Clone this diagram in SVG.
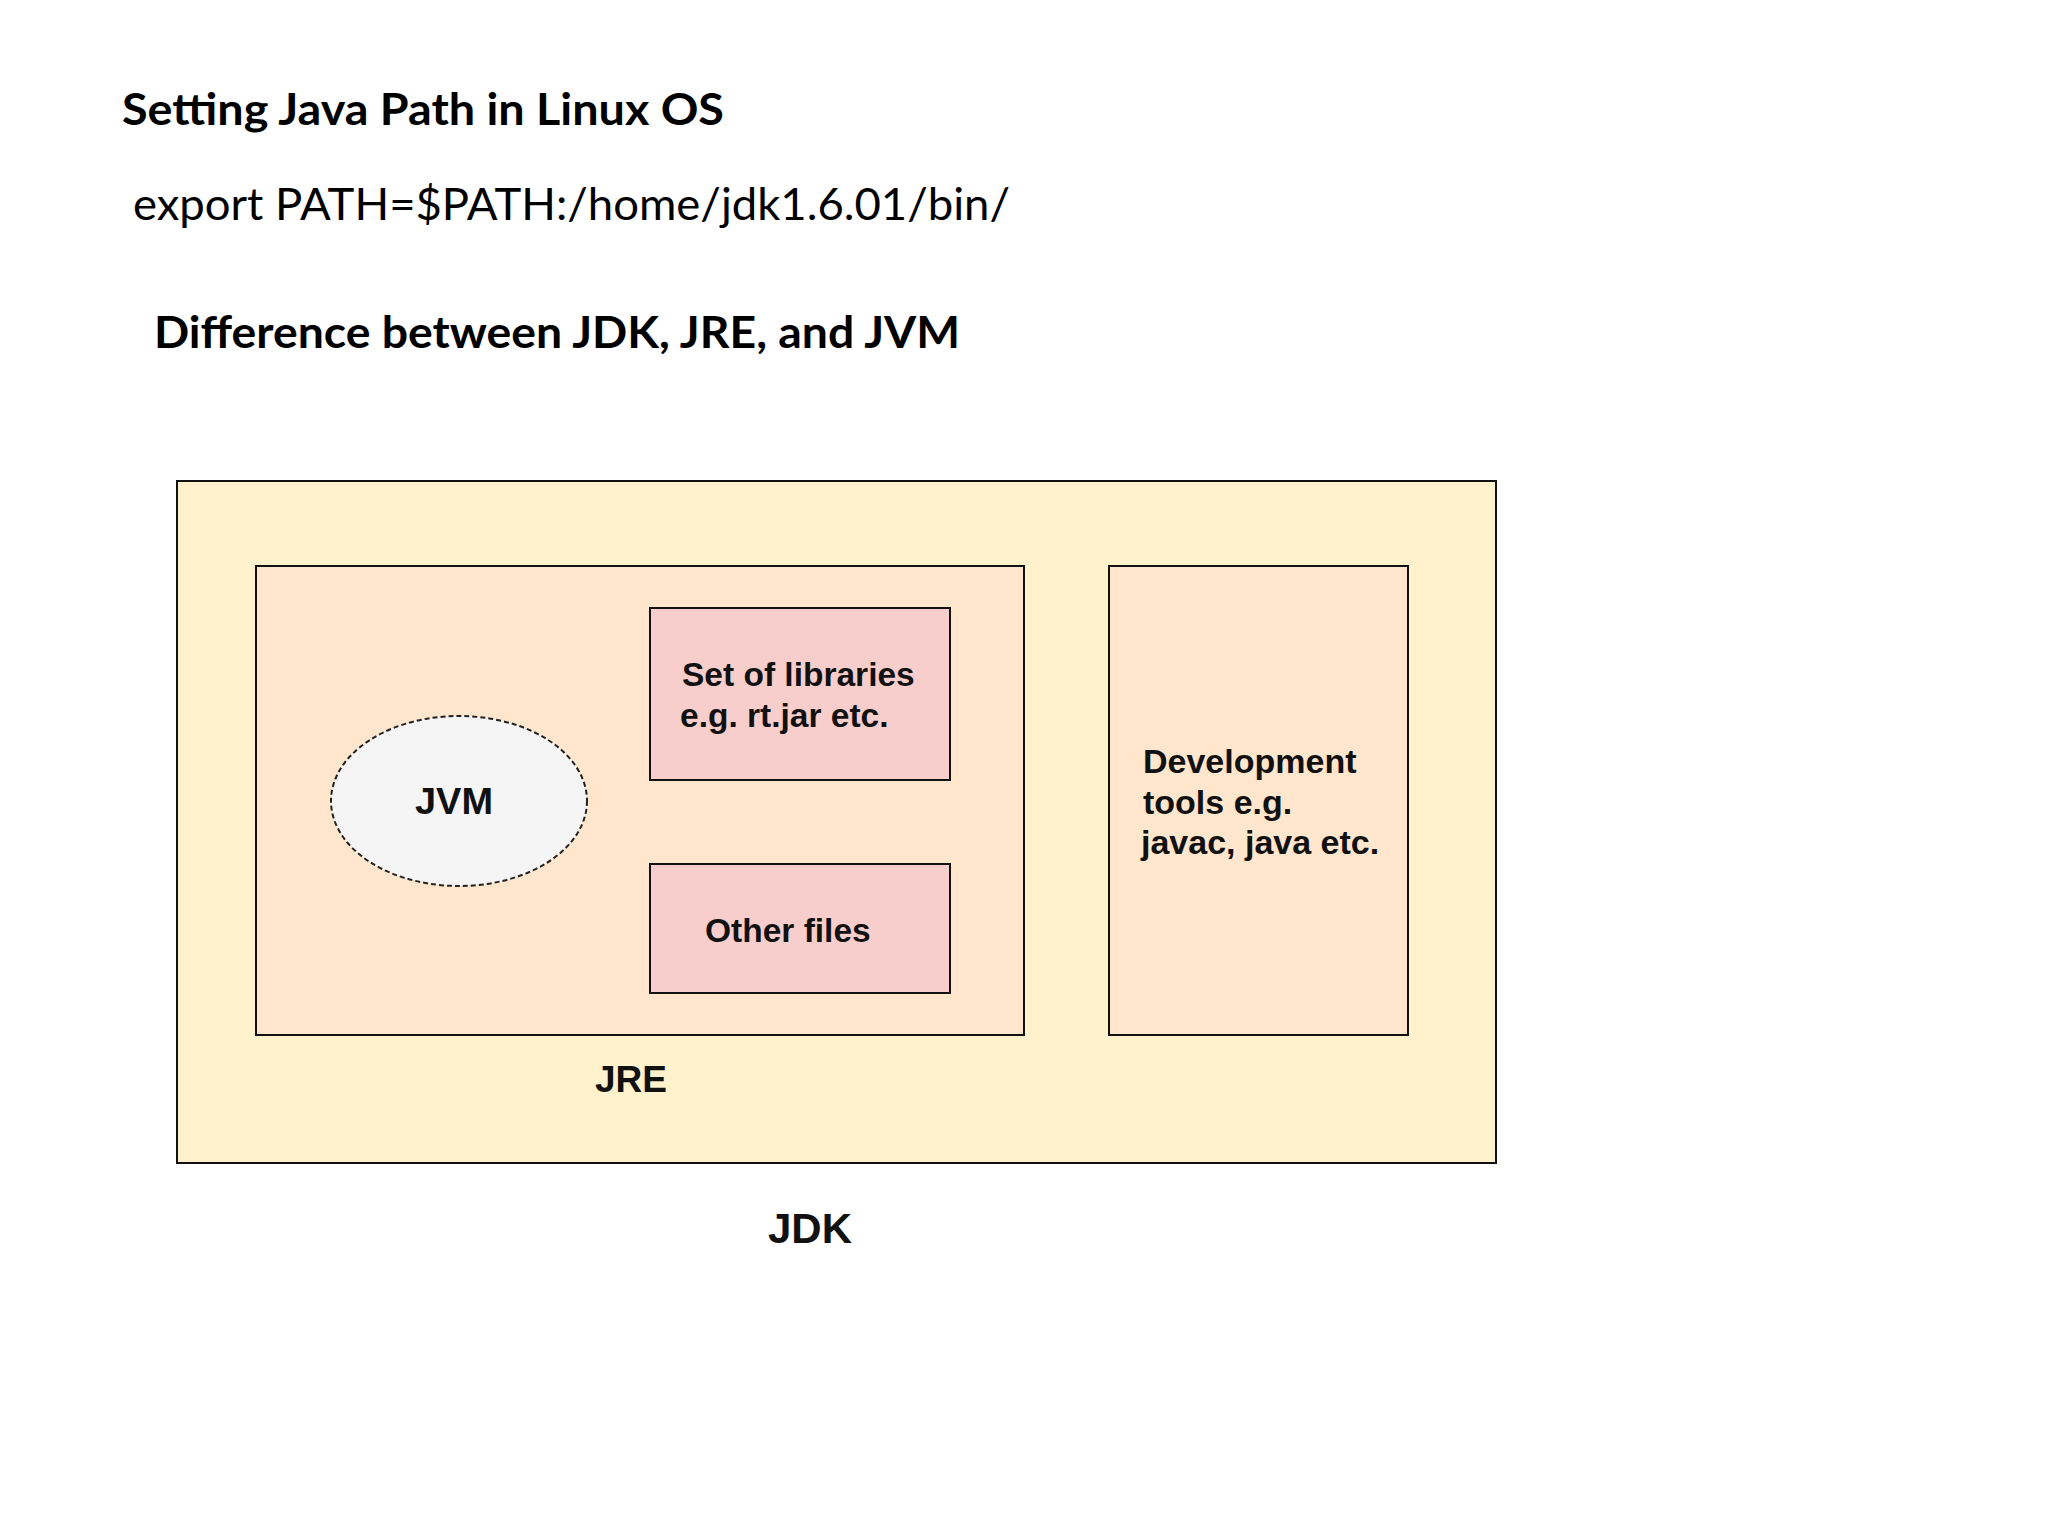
<svg xmlns="http://www.w3.org/2000/svg" width="2048" height="1536" viewBox="0 0 2048 1536">
<style>
  .h { font-family: Lato, "Noto Sans", "Liberation Sans", sans-serif; fill: #000; }
  .hb { font-weight: bold; font-size: 44px; }
  .hr { font-weight: normal; font-size: 44px; }
  .lbl { font-family: "Liberation Sans", Arial, sans-serif; font-weight: bold; fill: #111; }
  .box { stroke: #111; stroke-width: 2; }
  .outer { fill: #FFF2CC; }
  .mid { fill: #FFE6CC; }
  .inner { fill: #F8CECC; }
  .jvm { fill: #F5F5F5; stroke: #222; stroke-width: 2; stroke-dasharray: 5 3; }
</style>
<rect x="0" y="0" width="2048" height="1536" fill="#FFFFFF"/>

<g id="headings">
  <text class="h hb" x="122" y="125" textLength="602" lengthAdjust="spacingAndGlyphs">Setting Java Path in Linux OS</text>
  <text class="h hr" x="133" y="220" textLength="877" lengthAdjust="spacingAndGlyphs">export PATH=$PATH:/home/jdk1.6.01/bin/</text>
  <text class="h hb" x="154" y="348" textLength="806" lengthAdjust="spacingAndGlyphs">Difference between JDK, JRE, and JVM</text>
</g>

<g id="jdk">
  <rect class="box outer" x="177" y="481" width="1319" height="682"/>
  <text class="lbl" x="768" y="1243" font-size="42" textLength="84" lengthAdjust="spacingAndGlyphs">JDK</text>
</g>

<g id="jre">
  <rect class="box mid" x="256" y="566" width="768" height="469"/>
  <text class="lbl" x="595" y="1092" font-size="37" textLength="72" lengthAdjust="spacingAndGlyphs">JRE</text>
</g>

<g id="jvm">
  <ellipse class="jvm" cx="459" cy="801" rx="128" ry="85"/>
  <text class="lbl" x="415" y="814" font-size="37" textLength="78" lengthAdjust="spacingAndGlyphs">JVM</text>
</g>

<g id="libraries">
  <rect class="box inner" x="650" y="608" width="300" height="172"/>
  <text class="lbl" font-size="33.5">
    <tspan x="682" y="686">Set of libraries</tspan>
    <tspan x="680" y="727">e.g. rt.jar etc.</tspan>
  </text>
</g>

<g id="other-files">
  <rect class="box inner" x="650" y="864" width="300" height="129"/>
  <text class="lbl" x="705" y="942" font-size="33.5">Other files</text>
</g>

<g id="dev-tools">
  <rect class="box mid" x="1109" y="566" width="299" height="469"/>
  <text class="lbl" font-size="34">
    <tspan x="1143" y="773">Development</tspan>
    <tspan x="1143" y="814">tools e.g.</tspan>
    <tspan x="1141" y="854">javac, java etc.</tspan>
  </text>
</g>

<g id="connectors"></g>
</svg>
